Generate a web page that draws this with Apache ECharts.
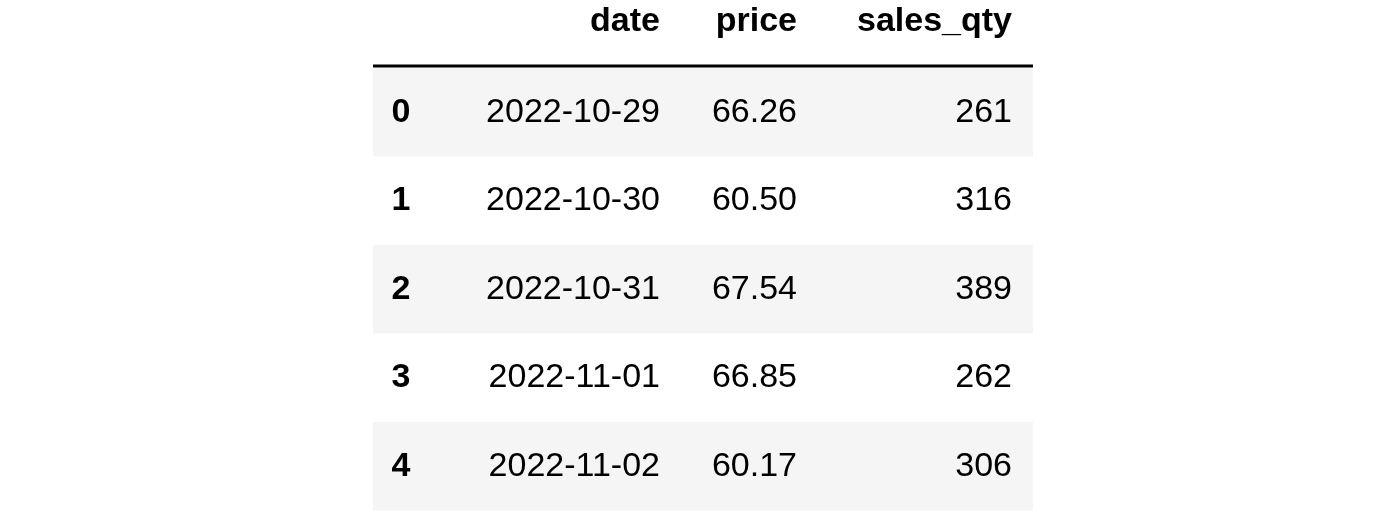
<!DOCTYPE html>
<html>
<head>
<meta charset="utf-8">
<script src="https://cdn.jsdelivr.net/npm/echarts@6/dist/echarts.min.js"></script>
<style>
  html, body { margin: 0; padding: 0; background: #fff; }
  #main { width: 1400px; height: 519px; }
</style>
</head>
<body>
<div id="main"></div>
<script>
const columns = ['date', 'price', 'sales_qty'];
const rowIndex = ['0', '1', '2', '3', '4'];
const dates = ['2022-10-29', '2022-10-30', '2022-10-31', '2022-11-01', '2022-11-02'];
const prices = ['66.26', '60.50', '67.54', '66.85', '60.17'];
const salesQty = ['261', '316', '389', '262', '306'];

// layout of the table
const left = 373, right = 1033;
const headY = 22, ruleY = 66, rowTop = 68, rowH = 88.5;
const colRight = [660, 797, 1012];
const idxX = 401;
const font = '"Liberation Sans", Arial, Helvetica, sans-serif';

const chart = echarts.init(document.getElementById('main'));
let els = [];

columns.forEach(function (c, i) {
    els.push({
        type: 'text',
        style: { text: c, x: colRight[i], y: headY, align: 'right', verticalAlign: 'middle',
                 font: 'bold 34px ' + font, fill: '#000' }
    });
});
els.push({
    type: 'rect',
    shape: { x: left, y: ruleY - 1.5, width: right - left, height: 3 },
    style: { fill: '#000' }
});

rowIndex.forEach(function (r, i) {
    const top = rowTop + i * rowH;
    const cy = top + rowH / 2;
    if (i % 2 === 0) {
        els.push({
            type: 'rect',
            shape: { x: left, y: top, width: right - left, height: rowH },
            style: { fill: '#f5f5f5' }
        });
    }
    els.push({
        type: 'text',
        style: { text: r, x: idxX, y: cy, align: 'center', verticalAlign: 'middle',
                 font: 'bold 34px ' + font, fill: '#000' }
    });
    [dates[i], prices[i], salesQty[i]].forEach(function (v, j) {
        els.push({
            type: 'text',
            style: { text: v, x: colRight[j], y: cy, align: 'right', verticalAlign: 'middle',
                     font: '34px ' + font, fill: '#000' }
        });
    });
});

chart.setOption({
    animation: false,
    graphic: { elements: els }
});
</script>
</body>
</html>
